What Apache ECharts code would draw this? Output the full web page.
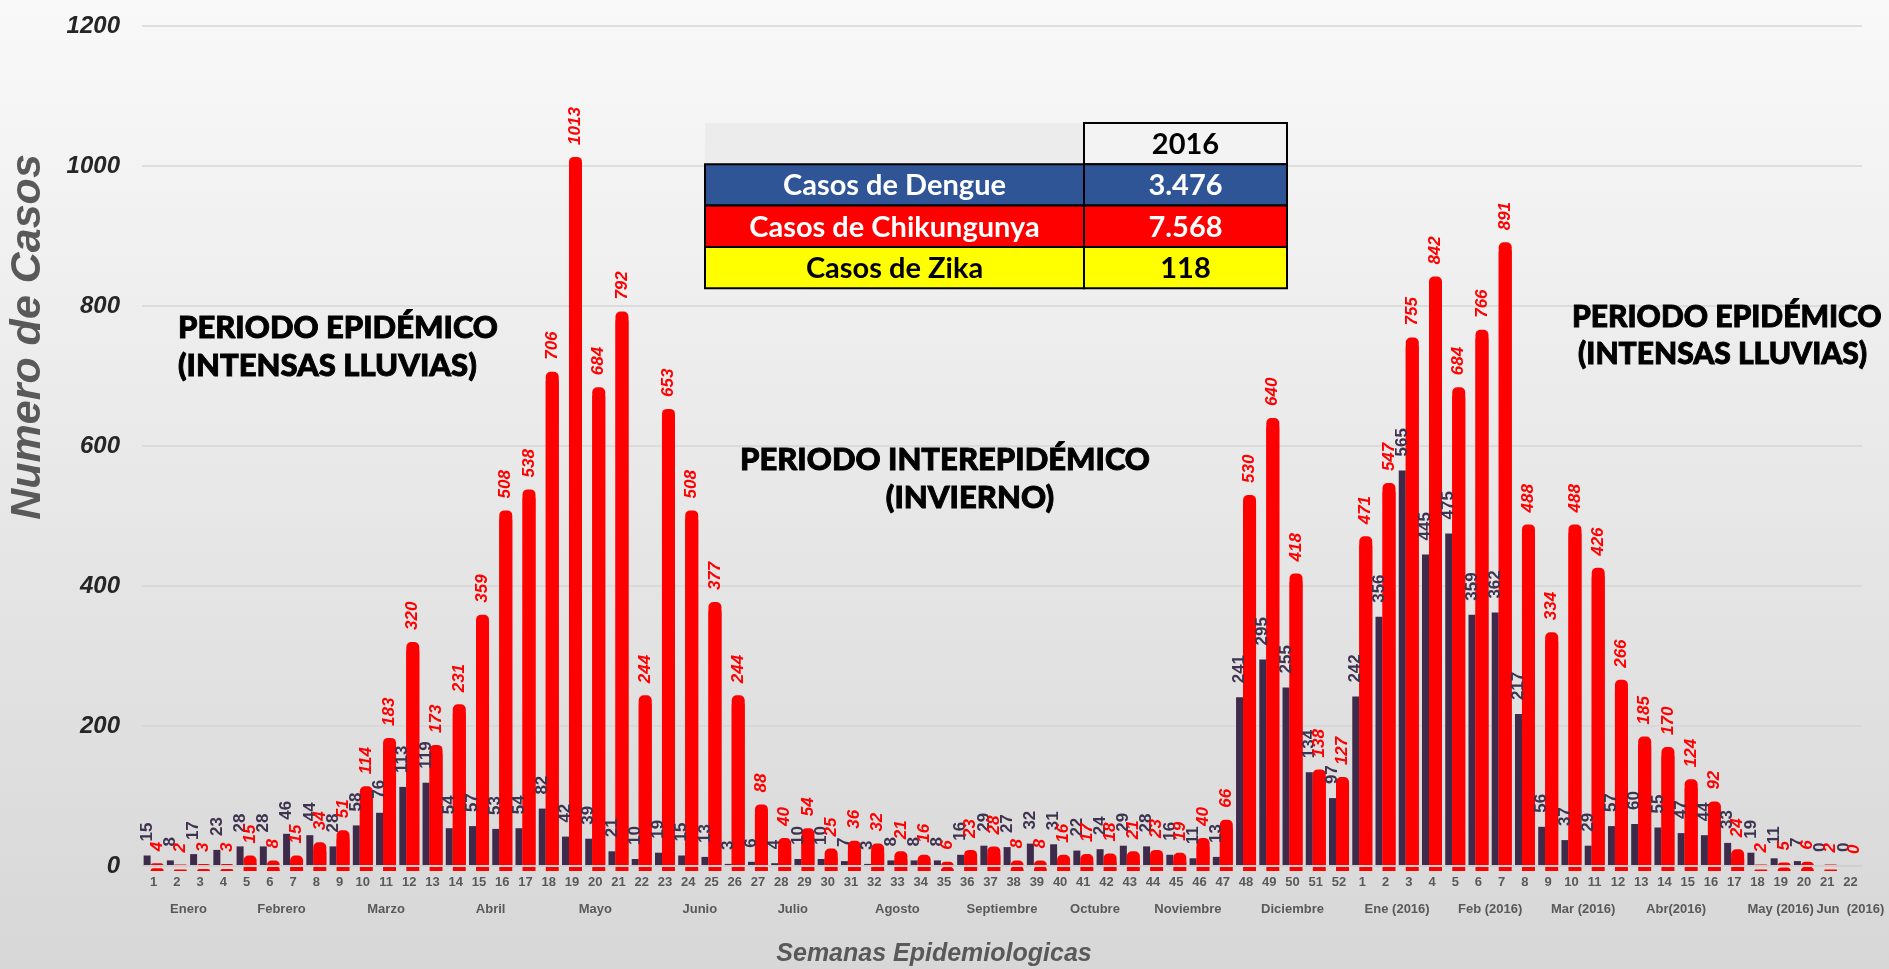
<!DOCTYPE html>
<html>
<head>
<meta charset="utf-8">
<script src="https://cdn.jsdelivr.net/npm/echarts@6.0.0/dist/echarts.min.js"></script>
<style>html,body{margin:0;padding:0;overflow:hidden;}#c{width:1889px;height:969px;}</style>
</head>
<body>
<div id="c"></div>
<script>
// ---- data ----
const weeks = ['1','2','3','4','5','6','7','8','9','10','11','12','13','14','15','16','17','18','19','20',
  '21','22','23','24','25','26','27','28','29','30','31','32','33','34','35','36','37','38','39','40',
  '41','42','43','44','45','46','47','48','49','50','51','52',
  '1','2','3','4','5','6','7','8','9','10','11','12','13','14','15','16','17','18','19','20','21','22'];
const dengue = [15,8,17,23,28,28,46,44,28,58,76,113,119,54,57,53,54,82,42,39,
  21,10,19,15,13,3,6,4,10,10,7,3,8,8,8,16,29,27,32,31,
  22,24,29,28,16,11,13,241,295,255,134,97,
  242,356,565,445,475,359,362,217,56,37,29,57,60,55,47,44,33,19,11,7,0,0];
const chikungunya = [4,2,3,3,15,8,15,34,51,114,183,320,173,231,359,508,538,706,1013,684,
  792,244,653,508,377,244,88,40,54,25,36,32,21,16,6,23,28,8,8,16,
  17,18,21,23,19,40,66,530,640,418,138,127,
  471,547,755,842,684,766,891,488,334,488,426,266,185,170,124,92,24,2,5,6,2,0];
const months = ['Enero','Febrero','Marzo','Abril','Mayo','Junio','Julio','Agosto','Septiembre','Octubre',
  'Noviembre','Diciembre','Ene (2016)','Feb (2016)','Mar (2016)','Abr(2016)','May (2016)','Jun  (2016)'];
const monthWeeks = [4,4,5,4,5,4,4,5,4,4,4,5,4,4,4,4,5,1];
const yTicks = [0,200,400,600,800,1000,1200];
const tableHeader = '2016';
const tableRows = ['Casos de Dengue','Casos de Chikungunya','Casos de Zika'];
const tableValues = ['3.476','7.568','118'];

// month axis: boundaries positions (half-week steps), labels at group centres
const monthAxis = new Array(weeks.length * 2 + 1).fill('');
let start = 0;
months.forEach((m, i) => { monthAxis[2 * start + monthWeeks[i]] = m; start += monthWeeks[i]; });

// ---- styles ----
const RED = '#ff0000', NAVY = '#3e2a4b';
const tableFills = ['#2f5597', '#ff0000', '#ffff00'];
const tableText = ['#ffffff', '#ffffff', '#000000'];
const annoFont = { fontFamily: 'Lato', fontWeight: 900, fill: '#000', stroke: '#000', lineWidth: 0.9 };

const graphic = [];
graphic.push({ type: 'text', x: 28, y: 337, rotation: Math.PI / 2,
  style: { text: 'Numero de Casos', fontFamily: 'Liberation Sans', fontWeight: 'bold', fontStyle: 'italic',
    fontSize: 43, fill: '#595959', align: 'center', verticalAlign: 'middle' } });
graphic.push({ type: 'text', x: 934, y: 954,
  style: { text: 'Semanas Epidemiologicas', fontFamily: 'Liberation Sans', fontWeight: 'bold', fontStyle: 'italic',
    fontSize: 25, fill: '#595959', align: 'center', verticalAlign: 'middle' } });
const annos = [
  ['PERIODO EPIDÉMICO', 178, 328, 'left', 31],
  ['(INTENSAS LLUVIAS)', 178, 366, 'left', 31],
  ['PERIODO INTEREPIDÉMICO', 945, 460, 'center', 31],
  ['(INVIERNO)', 970, 498, 'center', 31],
  ['PERIODO EPIDÉMICO', 1572, 317, 'left', 30],
  ['(INTENSAS LLUVIAS)', 1578, 354, 'left', 30]
];
annos.forEach(a => graphic.push({ type: 'text', x: a[1], y: a[2], z: 10,
  style: Object.assign({ text: a[0], fontSize: a[4], align: a[3], verticalAlign: 'middle' }, annoFont) }));
// table
const tx = 705, tsplit = 1084, tr = 1287, ty = 123, rh = 41.3;
const cellFont = { fontFamily: 'Lato', fontWeight: 'bold', fontSize: 29, align: 'center', verticalAlign: 'middle' };
graphic.push({ type: 'rect', z: 20, shape: { x: tx, y: ty, width: tsplit - tx, height: rh }, style: { fill: '#ececec' } });
graphic.push({ type: 'rect', z: 20, shape: { x: tsplit, y: ty, width: tr - tsplit, height: rh },
  style: { fill: '#f3f3f3', stroke: '#000', lineWidth: 2 } });
graphic.push({ type: 'text', z: 21, x: (tsplit + tr) / 2, y: ty + rh / 2 + 1,
  style: Object.assign({ text: tableHeader, fill: '#000' }, cellFont) });
tableRows.forEach((name, i) => {
  const y = ty + rh * (i + 1);
  graphic.push({ type: 'rect', z: 20, shape: { x: tx, y: y, width: tsplit - tx, height: rh },
    style: { fill: tableFills[i], stroke: '#000', lineWidth: 2 } });
  graphic.push({ type: 'rect', z: 20, shape: { x: tsplit, y: y, width: tr - tsplit, height: rh },
    style: { fill: tableFills[i], stroke: '#000', lineWidth: 2 } });
  graphic.push({ type: 'text', z: 21, x: (tx + tsplit) / 2, y: y + rh / 2 + 1,
    style: Object.assign({ text: name, fill: tableText[i] }, cellFont) });
  graphic.push({ type: 'text', z: 21, x: (tsplit + tr) / 2, y: y + rh / 2 + 1,
    style: Object.assign({ text: tableValues[i], fill: tableText[i] }, cellFont) });
});

const chart = echarts.init(document.getElementById('c'), null, { renderer: 'canvas' });
chart.setOption({
  animation: false,
  backgroundColor: { type: 'linear', x: 0, y: 0, x2: 0, y2: 1,
    colorStops: [{ offset: 0, color: '#f9f9f9' }, { offset: 1, color: '#d7d7d7' }] },
  grid: { left: 142, right: 27, top: 26, bottom: 103, containLabel: false },
  xAxis: [
    { type: 'category', data: weeks, z: 5,
      axisLine: { lineStyle: { color: '#cfcfcf', width: 2 } },
      axisTick: { show: false },
      axisLabel: { interval: 0, margin: 10, color: '#595959', fontFamily: 'Liberation Sans', fontWeight: 'bold', fontSize: 13 } },
    { type: 'category', data: monthAxis, boundaryGap: false, position: 'bottom',
      axisLine: { show: false }, axisTick: { show: false }, splitLine: { show: false },
      axisLabel: { interval: 0, margin: 37, color: '#595959', fontFamily: 'Liberation Sans', fontWeight: 'bold', fontSize: 13 } }
  ],
  yAxis: {
    type: 'value', min: yTicks[0], max: yTicks[yTicks.length - 1], interval: yTicks[1] - yTicks[0],
    axisLine: { show: false }, axisTick: { show: false },
    axisLabel: { margin: 22, formatter: v => String(v), color: '#262626', fontFamily: 'Liberation Sans',
      fontWeight: 'bold', fontStyle: 'italic', fontSize: 24 },
    splitLine: { lineStyle: { color: '#d6d6d6', width: 1.5 } }
  },
  series: [
    { name: 'Dengue', type: 'bar', data: dengue, barWidth: 7, barGap: '0%',
      itemStyle: { color: NAVY },
      label: { show: true, position: 'top', rotate: 90, align: 'left', verticalAlign: 'middle', distance: 14,
        color: '#3f3350', fontFamily: 'Liberation Sans', fontWeight: 'bold', fontSize: 17 } },
    { name: 'Chikungunya', type: 'bar', data: chikungunya, barWidth: 13, barGap: '0%',
      itemStyle: { color: RED, borderRadius: [5, 5, 0, 0],
        shadowColor: RED, shadowOffsetY: 5, shadowBlur: 0 },
      label: { show: true, position: 'top', rotate: 90, align: 'left', verticalAlign: 'middle', distance: 12,
        color: RED, fontFamily: 'Liberation Sans', fontWeight: 'bold', fontStyle: 'italic', fontSize: 17 } }
  ],
  graphic: graphic
});
</script>
</body>
</html>
